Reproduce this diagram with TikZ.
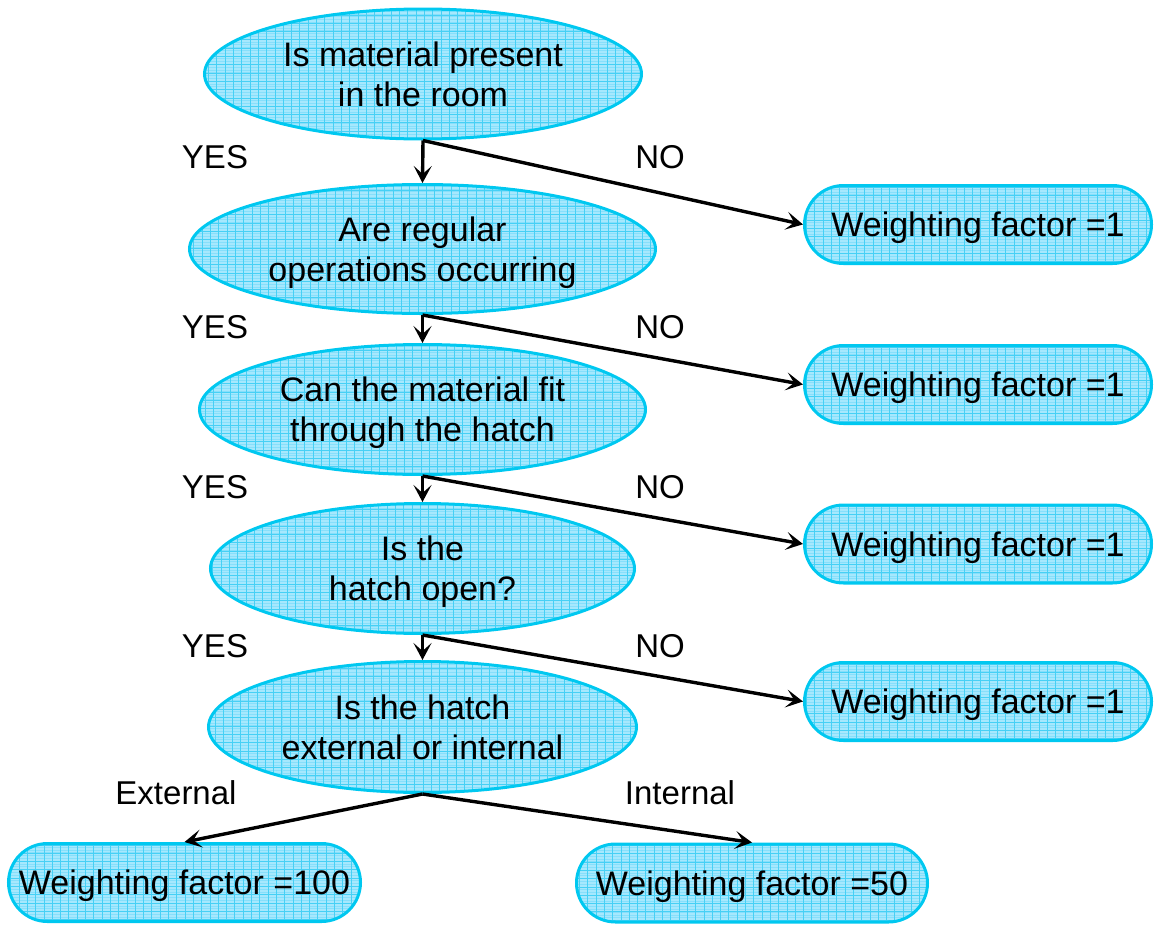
\documentclass[tikz,border=0pt]{standalone}
\usepackage{fontspec}
\setmainfont{Liberation Sans}
\usetikzlibrary{shapes.geometric,arrows.meta}
\definecolor{fillc}{RGB}{166,232,253}
\definecolor{gridc}{RGB}{70,208,245}
\definecolor{gridf}{RGB}{135,223,251}
\definecolor{edgec}{RGB}{0,200,240}
\tikzset{
  gridfill/.style={fill=fillc, draw=edgec, line width=3pt,
    path picture={
      \draw[gridf, line width=0.4pt, xstep=2000pt, ystep=2.8pt]
        (path picture bounding box.south west) grid (path picture bounding box.north east);
      \draw[gridc, line width=0.6pt, step=8.3pt]
        (path picture bounding box.south west) grid (path picture bounding box.north east);
    }},
  question/.style={gridfill, ellipse, inner sep=0pt, align=center,
    text height=64.3pt, text depth=0pt,
    font=\fontsize{34}{40}\selectfont},
  result/.style={gridfill, rectangle, rounded corners=39pt, inner sep=0pt,
    minimum height=78pt, text height=24.3pt, text depth=0pt,
    font=\fontsize{34}{40}\selectfont},
  lbl/.style={font=\fontsize{33}{40}\selectfont, inner sep=0pt,
    text height=23.6pt, text depth=0pt},
  conn/.style={line width=3.4pt, -{Stealth[length=17pt,width=18pt,inset=8pt]}}
}
\begin{document}
\begin{tikzpicture}[x=1pt,y=-1pt]
\useasboundingbox (0,0) rectangle (1154,924);
\node[question, minimum width=437pt, minimum height=130pt] (q1) at (423,74)
  {Is material present\\in the room};
\node[question, minimum width=466pt, minimum height=129pt] (q2) at (422.5,249)
  {Are regular\\operations occurring};
\node[question, minimum width=446pt, minimum height=130pt] (q3) at (422.5,409.5)
  {Can the material fit\\through the hatch};
\node[question, minimum width=424pt, minimum height=130pt] (q4) at (422.5,568.5)
  {Is the\\hatch open?};
\node[question, minimum width=428pt, minimum height=131pt] (q5) at (422.5,727)
  {Is the hatch\\external or internal};
\node[result, minimum width=347pt] (w1) at (978,224.5) {Weighting factor =1};
\node[result, minimum width=347pt] (w2) at (978,384.5) {Weighting factor =1};
\node[result, minimum width=347pt] (w3) at (978,544) {Weighting factor =1};
\node[result, minimum width=347pt] (w4) at (978,701.5) {Weighting factor =1};
\node[result, minimum width=352pt] (w5) at (184.5,882.5) {Weighting factor =100};
\node[result, minimum width=351pt] (w6) at (752,883) {Weighting factor =50};
\node[lbl] (y1) at (215,157) {YES};
\node[lbl] (n1) at (660,157) {NO};
\node[lbl] (y2) at (215,327) {YES};
\node[lbl] (n2) at (660,327) {NO};
\node[lbl] (y3) at (215,487) {YES};
\node[lbl] (n3) at (660,487) {NO};
\node[lbl] (y4) at (215,646) {YES};
\node[lbl] (n4) at (660,646) {NO};
\node[lbl] (ext) at (176,793) {External};
\node[lbl] (int) at (680,793) {Internal};
\draw[conn] (q1.south) -- (q2.north);
\draw[conn] (q1.south) -- (w1.west);
\draw[conn] (q2.south) -- (q3.north);
\draw[conn] (q2.south) -- (w2.west);
\draw[conn] (q3.south) -- (q4.north);
\draw[conn] (q3.south) -- (w3.west);
\draw[conn] (q4.south) -- (q5.north);
\draw[conn] (q4.south) -- (w4.west);
\draw[conn] (q5.south) -- (w5.north);
\draw[conn] (q5.south) -- (w6.north);
\end{tikzpicture}
\end{document}
